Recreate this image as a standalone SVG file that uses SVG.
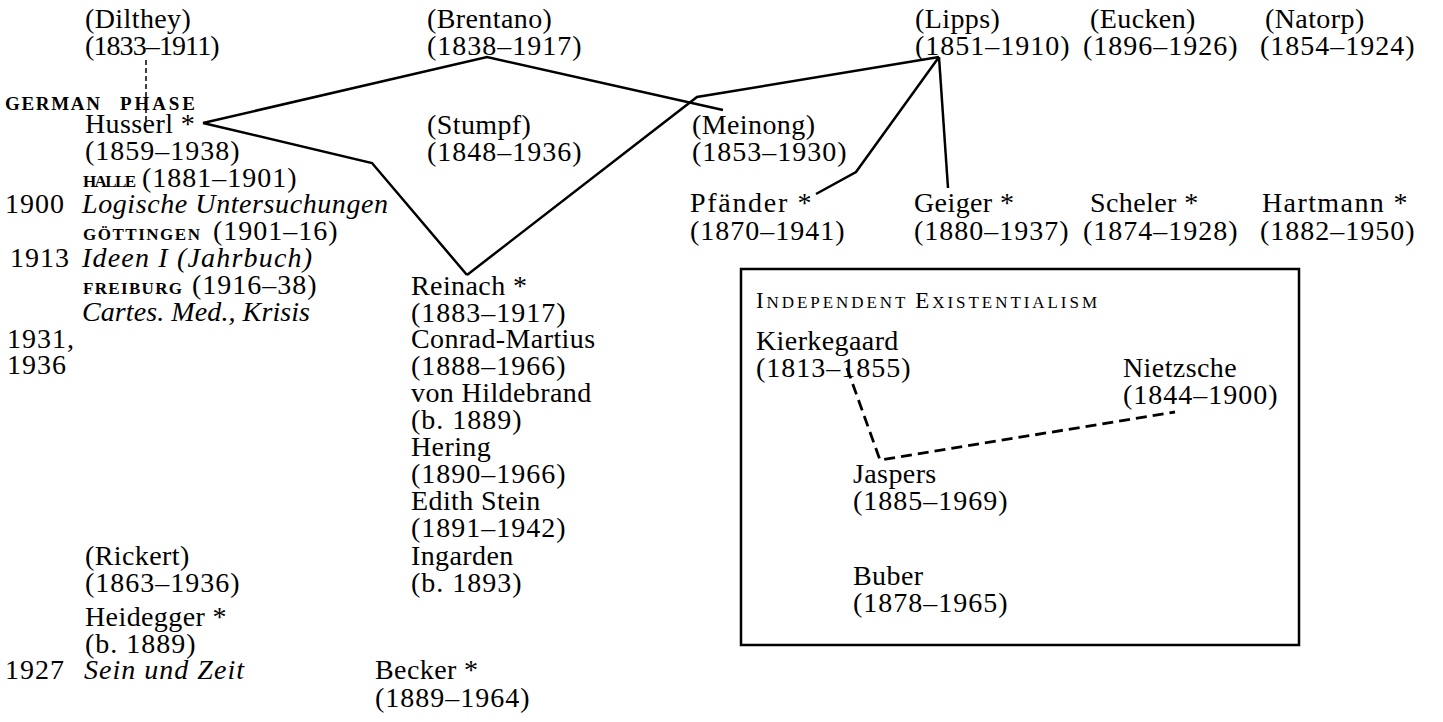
<svg xmlns="http://www.w3.org/2000/svg" width="1443" height="722" viewBox="0 0 1443 722">
<style>
text { font-family: "Liberation Serif", "Times New Roman", serif; font-size: 28px; fill: #000; letter-spacing: 0.4px; }
.d { letter-spacing: 1px; }
.it { font-style: italic; letter-spacing: 0; }
.sc { font-size: 17px; font-weight: bold; letter-spacing: 0; }
.scl { font-size: 19px; }
.conn { stroke: #000; stroke-width: 2.5; fill: none; stroke-linejoin: miter; }
.dash { stroke-dasharray: 11 6; stroke-width: 2.8; }
.thin { stroke-width: 1.5; stroke-dasharray: 5 3; }
.box { stroke: #000; stroke-width: 2.5; fill: none; }
</style>
<rect width="1443" height="722" fill="#fff"/>

<g id="connectors">
  <path class="conn thin" d="M146,60 V124"/>
  <path class="conn" d="M203,123 L487,57 L723,110"/>
  <path class="conn" d="M203,123 L372,163 L467,275"/>
  <path class="conn" d="M467,275 L697,97 L939,57"/>
  <path class="conn" d="M939,57 L856,172 L816,194"/>
  <path class="conn" d="M939,57 L948,188"/>
  <path class="conn dash" d="M847,368 L880,460 L1175,412"/>
</g>

<g id="dilthey"><text x="85" y="28">(Dilthey)</text><text x="85" y="55" textLength="135">(1833–1911)</text></g>
<g id="brentano"><text x="427" y="28">(Brentano)</text><text class="d" x="427" y="55">(1838–1917)</text></g>
<g id="lipps"><text x="915" y="28">(Lipps)</text><text class="d" x="915" y="55">(1851–1910)</text></g>
<g id="eucken"><text x="1090" y="28">(Eucken)</text><text class="d" x="1083" y="55">(1896–1926)</text></g>
<g id="natorp"><text x="1265" y="28">(Natorp)</text><text class="d" x="1260" y="55">(1854–1924)</text></g>

<g id="german-phase"><text class="sc scl" x="5" y="110" textLength="95">GERMAN</text><text class="sc scl" x="120" y="110" textLength="75">PHASE</text></g>
<g id="husserl">
  <text x="85" y="133">Husserl *</text>
  <text class="d" x="85" y="160">(1859–1938)</text>
  <text class="sc" x="83" y="187" textLength="53">HALLE</text><text class="d" x="142" y="187">(1881–1901)</text>
  <text class="d" x="5" y="213">1900</text><text class="it" x="82" y="213" textLength="306">Logische Untersuchungen</text>
  <text class="sc" x="83" y="240" textLength="117">GÖTTINGEN</text><text class="d" x="213" y="240">(1901–16)</text>
  <text class="d" x="10" y="267">1913</text><text class="it" x="82" y="267" textLength="230">Ideen I (Jahrbuch)</text>
  <text class="sc" x="83" y="294" textLength="99">FREIBURG</text><text class="d" x="192" y="294">(1916–38)</text>
  <text class="it" x="82" y="321" textLength="228">Cartes. Med., Krisis</text>
  <text class="d" x="7" y="348">1931,</text>
  <text class="d" x="7" y="374">1936</text>
</g>
<g id="stumpf"><text x="427" y="134">(Stumpf)</text><text class="d" x="427" y="161">(1848–1936)</text></g>
<g id="meinong"><text x="692" y="134">(Meinong)</text><text class="d" x="692" y="161">(1853–1930)</text></g>

<g id="pfaender"><text x="690" y="212" textLength="122">Pfänder *</text><text class="d" x="690" y="240">(1870–1941)</text></g>
<g id="geiger"><text x="914" y="212">Geiger *</text><text class="d" x="914" y="240">(1880–1937)</text></g>
<g id="scheler"><text x="1090" y="212">Scheler *</text><text class="d" x="1083" y="240">(1874–1928)</text></g>
<g id="hartmann"><text x="1262" y="212" textLength="146">Hartmann *</text><text class="d" x="1260" y="240">(1882–1950)</text></g>

<g id="reinach"><text x="411" y="295">Reinach *</text><text class="d" x="411" y="322">(1883–1917)</text></g>
<g id="conrad-martius"><text x="411" y="348">Conrad-Martius</text><text class="d" x="411" y="375">(1888–1966)</text></g>
<g id="hildebrand"><text x="411" y="402">von Hildebrand</text><text class="d" x="411" y="429">(b. 1889)</text></g>
<g id="hering"><text x="411" y="456">Hering</text><text class="d" x="411" y="483">(1890–1966)</text></g>
<g id="stein"><text x="411" y="510">Edith Stein</text><text class="d" x="411" y="537">(1891–1942)</text></g>
<g id="ingarden"><text x="411" y="565">Ingarden</text><text class="d" x="411" y="592">(b. 1893)</text></g>

<g id="rickert"><text x="85" y="565">(Rickert)</text><text class="d" x="85" y="592">(1863–1936)</text></g>
<g id="heidegger">
  <text x="85" y="626">Heidegger *</text>
  <text class="d" x="85" y="653">(b. 1889)</text>
  <text class="d" x="5" y="679">1927</text><text class="it" x="84" y="679" textLength="160">Sein und Zeit</text>
</g>
<g id="becker"><text x="375" y="679">Becker *</text><text class="d" x="375" y="707">(1889–1964)</text></g>

<g id="existentialism">
  <rect class="box" x="741" y="269" width="558" height="376"/>
  <text x="756" y="308" textLength="341" style="letter-spacing:0"><tspan font-size="23">I</tspan><tspan font-size="17">NDEPENDENT  </tspan><tspan font-size="23">E</tspan><tspan font-size="17">XISTENTIALISM</tspan></text>
</g>
<g id="kierkegaard"><text x="756" y="350">Kierkegaard</text><text class="d" x="756" y="377">(1813–1855)</text></g>
<g id="nietzsche"><text x="1123" y="377">Nietzsche</text><text class="d" x="1123" y="404">(1844–1900)</text></g>
<g id="jaspers"><text x="853" y="483">Jaspers</text><text class="d" x="853" y="510">(1885–1969)</text></g>
<g id="buber"><text x="853" y="585">Buber</text><text class="d" x="853" y="612">(1878–1965)</text></g>
</svg>
